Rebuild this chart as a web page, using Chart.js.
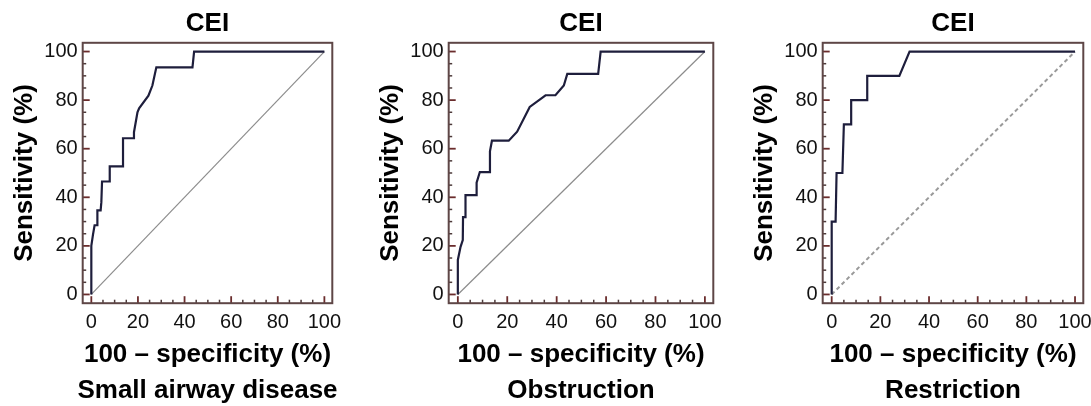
<!DOCTYPE html>
<html>
<head>
<meta charset="utf-8">
<script src="https://cdn.jsdelivr.net/npm/chart.js@4"></script>
<style>
  html, body { margin:0; padding:0; background:#fff; width:1091px; height:406px; overflow:hidden; }
  canvas { position:absolute; top:0; }
</style>
</head>
<body>
<canvas id="c1" width="415" height="406" style="left:0px"></canvas>
<canvas id="c2" width="430" height="406" style="left:366px"></canvas>
<canvas id="c3" width="426" height="406" style="left:740px"></canvas>
<script>
// ---- data ----
const panelTitles = ["CEI", "CEI", "CEI"];
const panelSubtitles = ["Small airway disease", "Obstruction", "Restriction"];
const xAxisTitle = "100 \u2013 specificity (%)";
const yAxisTitle = "Sensitivity (%)";
const tickValues = [0, 20, 40, 60, 80, 100];
const minorTickValues = [0,5,10,15,20,25,30,35,40,45,50,55,60,65,70,75,80,85,90,95,100];
const diagonalX = [0, 100];
const diagonalY = [0, 100];

// Small airway disease ROC
const sadFpr = [0, 0, 0.7, 1.4, 2.6, 2.6, 4.0, 4.3, 4.6, 7.9, 7.9, 13.6, 13.6, 18.0, 18.3, 19.8, 20.5, 24.5, 26.2, 27.9, 43.4, 44.1, 100];
const sadTpr = [0, 20, 24.5, 28.5, 28.5, 34.6, 34.6, 38.0, 46.5, 46.5, 52.7, 52.7, 64.3, 64.3, 66.8, 75.0, 76.6, 81.8, 86.0, 93.5, 93.5, 100, 100];
// Obstruction ROC
const obsFpr = [0, 0, 1.1, 2.0, 2.1, 3.1, 3.1, 7.6, 7.6, 8.9, 13.0, 13.0, 13.8, 20.6, 24.0, 29.1, 35.5, 39.5, 42.9, 44.3, 56.8, 57.8, 100];
const obsTpr = [0, 14.2, 19.6, 22.4, 31.8, 31.8, 40.9, 40.9, 46.0, 50.4, 50.4, 58.9, 63.3, 63.3, 67.0, 77.2, 82.0, 82.0, 86.0, 90.8, 90.8, 100, 100];
// Restriction ROC
const resFpr = [0, 0, 1.6, 2.0, 4.4, 5.0, 8.0, 8.0, 14.6, 14.6, 27.8, 32.0, 100];
const resTpr = [0, 30, 30, 50, 50, 70, 70, 80, 80, 90, 90, 100, 100];

// ---- drawing ----
const FONT = "'Liberation Sans', Arial, Helvetica, sans-serif";
const SIDE = 82.7;

const framePlugin = {
  id: 'frameTicks',
  afterDraw(chart) {
    const {ctx, chartArea: a, scales} = chart;
    const x = scales.x, y = scales.y;
    ctx.save();
    ctx.lineCap = 'butt';
    for (const v of minorTickValues) {
      const major = tickValues.includes(v);
      const len = major ? 7 : 3.5;
      ctx.strokeStyle = major ? '#6a2c2c' : '#4d3a3a';
      ctx.lineWidth = major ? 1.8 : 1.5;
      const px = x.getPixelForValue(v);
      ctx.beginPath(); ctx.moveTo(px, a.bottom); ctx.lineTo(px, a.bottom - len); ctx.stroke();
      const py = y.getPixelForValue(v);
      ctx.beginPath(); ctx.moveTo(a.left, py); ctx.lineTo(a.left + len, py); ctx.stroke();
    }
    ctx.strokeStyle = '#5e4646';
    ctx.lineWidth = 2;
    ctx.strokeRect(a.left, a.top, a.right - a.left, a.bottom - a.top);
    ctx.restore();
  }
};

function pts(xs, ys) { return xs.map((v, i) => ({x: v, y: ys[i]})); }

function makeChart(id, fpr, tpr, title, subtitle, dashed) {
  new Chart(document.getElementById(id), {
    type: 'scatter',
    data: {
      datasets: [
        {
          data: pts(diagonalX, diagonalY),
          showLine: true, pointRadius: 0,
          borderColor: dashed ? '#9a9a9a' : '#8c8c8c',
          borderWidth: dashed ? 2 : 1.2,
          borderDash: dashed ? [4, 3] : [],
          order: 2
        },
        {
          data: pts(fpr, tpr),
          showLine: true, pointRadius: 0,
          borderColor: '#1e1e3c',
          borderWidth: 2.2,
          order: 1
        }
      ]
    },
    options: {
      responsive: false,
      animation: false,
      devicePixelRatio: 1,
      layout: { padding: 0 },
      plugins: {
        legend: { display: false },
        tooltip: { enabled: false },
        title: {
          display: true, text: title, color: '#000',
          font: { family: FONT, size: 26, weight: 'bold' },
          padding: { top: 8, bottom: 3.6 }
        },
        subtitle: {
          display: true, text: subtitle, position: 'bottom', color: '#000',
          font: { family: FONT, size: 26, weight: 'bold' },
          padding: { top: 0, bottom: 0 }
        }
      },
      scales: {
        x: {
          type: 'linear', position: 'bottom', min: -3.7, max: 103.4,
          grid: { display: false, drawTicks: false },
          border: { display: false },
          afterBuildTicks: s => { s.ticks = tickValues.map(v => ({value: v})); },
          afterFit: s => { s.height = 71.6; },
          ticks: { color: '#111', padding: 7, maxRotation: 0, autoSkip: false,
                   font: { family: FONT, size: 20 } },
          title: { display: true, text: xAxisTitle, color: '#000',
                   font: { family: FONT, size: 26, weight: 'bold' },
                   padding: { top: 0, bottom: 4 } }
        },
        y: {
          type: 'linear', position: 'left', min: -3.6, max: 103.6,
          grid: { display: false, drawTicks: false },
          border: { display: false },
          afterBuildTicks: s => { s.ticks = tickValues.map(v => ({value: v})); },
          afterFit: s => { s.width = SIDE; },
          ticks: { color: '#111', padding: 5, autoSkip: false,
                   font: { family: FONT, size: 20 } },
          title: { display: true, text: yAxisTitle, color: '#000',
                   font: { family: FONT, size: 26, weight: 'bold' },
                   padding: { top: 9.4, bottom: 0 } }
        },
        yRight: {
          type: 'linear', position: 'right', display: true,
          grid: { display: false, drawTicks: false },
          border: { display: false },
          ticks: { display: false },
          afterFit: s => { s.width = SIDE; }
        }
      }
    },
    plugins: [framePlugin]
  });
}

makeChart('c1', sadFpr, sadTpr, panelTitles[0], panelSubtitles[0], false);
makeChart('c2', obsFpr, obsTpr, panelTitles[1], panelSubtitles[1], false);
makeChart('c3', resFpr, resTpr, panelTitles[2], panelSubtitles[2], true);
</script>
</body>
</html>
